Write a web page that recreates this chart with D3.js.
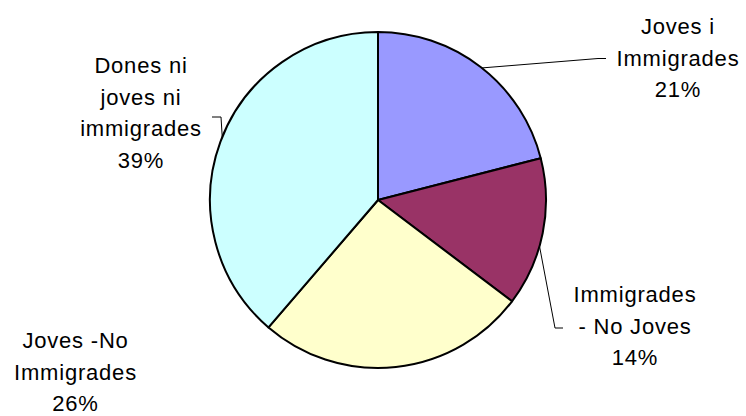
<!DOCTYPE html>
<html>
<head>
<meta charset="utf-8">
<script src="https://cdn.jsdelivr.net/npm/d3@7"></script>
<style>
  html, body { margin: 0; padding: 0; background: #ffffff; }
  svg { display: block; }
  text { font-family: "Liberation Sans", Arial, sans-serif; fill: #000; }
</style>
</head>
<body>
<script>
const categories = ["Joves i Immigrades", "Immigrades - No Joves", "Joves -No Immigrades", "Dones ni joves ni immigrades"];
const labelLines = [["Joves i", "Immigrades"], ["Immigrades", "- No Joves"], ["Joves -No", "Immigrades"], ["Dones ni", "joves ni", "immigrades"]];
const values = [21.0, 14.3, 26.0, 38.7];
const percentLabels = ["21%", "14%", "26%", "39%"];
const colors = ["#9999FF", "#993366", "#FFFFCC", "#CCFFFF"];

const W = 746, H = 416;
const cx = 378, cy = 200, R = 168;

const svg = d3.select("body").append("svg").attr("width", W).attr("height", H);

const pie = d3.pie().sort(null).value(d => d);
const arcs = pie(values);
const arc = d3.arc().innerRadius(0).outerRadius(R);

const g = svg.append("g").attr("transform", `translate(${cx},${cy})`);
g.selectAll("path").data(arcs).join("path")
  .attr("d", arc)
  .attr("fill", (d, i) => colors[i])
  .attr("stroke", "#000")
  .attr("stroke-width", 2)
  .attr("stroke-linejoin", "round");

// label positions (center x, first baseline y)
const labelPos = [
  { x: 678, y: 34 },
  { x: 635, y: 302 },
  { x: 75.5, y: 348 },
  { x: 141, y: 73 }
];
const lineH = 31.6;

function edgePoint(angle) {
  return [cx + R * Math.sin(angle), cy - R * Math.cos(angle)];
}
const leaders = [
  { i: 0, frac: 0.505, pts: p => [p, [598, 58.5], [606, 58.5]] },
  { i: 1, frac: 0.59, pts: p => [p, [555, 328], [563, 328]] },
  { i: 3, frac: 0.512, pts: p => [p, [221, 117], [212, 117]] }
];
const line = d3.line();
leaders.forEach(l => {
  const a = arcs[l.i];
  const ang = a.startAngle + (a.endAngle - a.startAngle) * l.frac;
  const p = edgePoint(ang);
  svg.append("path")
    .attr("d", line(l.pts(p)))
    .attr("fill", "none")
    .attr("stroke", "#000")
    .attr("stroke-width", 1);
});

labelPos.forEach((pos, i) => {
  const lines = labelLines[i].concat([percentLabels[i]]);
  const t = svg.append("text")
    .attr("text-anchor", "middle")
    .attr("font-size", 22)
    .attr("letter-spacing", 0.8);
  lines.forEach((s, k) => {
    t.append("tspan").attr("x", pos.x).attr("y", pos.y + k * lineH).text(s);
  });
});
</script>
</body>
</html>
